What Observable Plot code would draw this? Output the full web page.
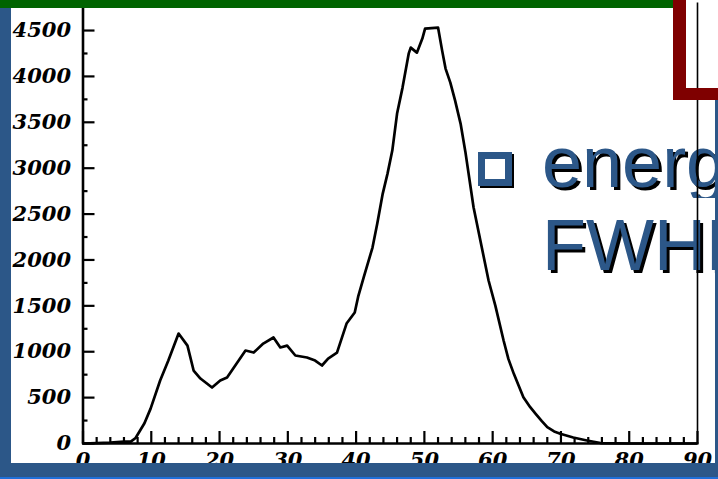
<!DOCTYPE html>
<html>
<head>
<meta charset="utf-8">
<script src="https://cdn.jsdelivr.net/npm/d3@7"></script>
<script src="https://cdn.jsdelivr.net/npm/@observablehq/plot@0.6"></script>
<style>
  html, body { margin: 0; padding: 0; background: #ffffff; }
  #stage { position: relative; width: 718px; height: 479px; overflow: hidden; background: #ffffff; }
  #stage > * { position: absolute; }
  .slideText { font-family: "Liberation Sans", Arial, sans-serif; font-size: 72px; line-height: 1; color: #2C5788; text-shadow: 3px 3px 0 #000; white-space: nowrap; z-index: 1; }
  #chart { left: 0; top: 0; z-index: 2; }
  .deco { z-index: 3; }
</style>
</head>
<body>
<div id="stage">
  <div class="slideText" style="left:542px; top:126px; width:176px; overflow:hidden;">energ</div>
  <div class="slideText" style="left:542px; top:209px; width:176px; overflow:hidden;">FWHM</div>
  <div style="left:478px; top:152px; width:20px; height:20px; border:7px solid #2C5788; background:#fff; box-shadow:2px 2px 0 #000; z-index:1;"></div>
  <div id="chart"></div>
  <div class="deco" style="left:0; top:0; width:673px; height:8px; background:#006400;"></div>
  <div class="deco" style="left:0; top:8px; width:11px; height:471px; background:#2C5788;"></div>
  <div class="deco" style="left:0; top:463px; width:718px; height:14px; background:#2C5788;"></div>
  <div class="deco" style="left:0; top:477px; width:718px; height:2px; background:#1F6FD8;"></div>
  <div class="deco" style="left:673px; top:0; width:13px; height:100px; background:#7F0000;"></div>
  <div class="deco" style="left:673px; top:88px; width:45px; height:12px; background:#7F0000;"></div>
  <div class="deco" style="left:715px; top:100px; width:3px; height:363px; background:#2C5788;"></div>
</div>
<script>
// Energy (channel) values
const energy = [0, 2, 4, 6, 7, 7.7, 9, 9.9, 11.3, 12.5, 14.0, 15.3, 16.2, 17.2, 18.9, 20.1, 21.1, 22.3, 23.8, 25.0,
  26.4, 27.9, 28.9, 29.9, 31.1, 32.8, 34.0, 35.0, 35.9, 37.2, 38.6, 39.8, 40.3, 41.1, 42.4, 43.1, 43.9, 44.6, 45.3,
  46.0, 46.8, 47.7, 48.0, 48.9, 49.7, 50.1, 52.0, 52.6, 53.1, 53.8, 54.5, 55.3, 56.0, 57.2, 59.4, 60.4, 61.6,
  62.3, 63.1, 63.8, 64.5, 65.5, 66.3, 67.2, 68.0, 69.0, 69.9, 71.8, 73.8, 75.8, 80, 85, 90];
// Counts
const counts = [0, 5, 10, 20, 20, 60, 220, 380, 686, 904, 1198, 1067, 795, 708, 610, 686, 719, 850, 1013, 991,
  1089, 1155, 1046, 1067, 959, 937, 904, 850, 926, 990, 1307, 1427, 1600, 1808, 2135, 2397, 2723, 2941, 3192,
  3595, 3878, 4248, 4314, 4259, 4412, 4521, 4532, 4281, 4085, 3932, 3736, 3486, 3180, 2574, 1776, 1500, 1122,
  922, 759, 632, 505, 396, 324, 243, 178, 131, 106, 65, 33, 5, 0, 0, 0];

const xTicks = [0, 10, 20, 30, 40, 50, 60, 70, 80, 90];
const xMinorTicks = [2, 4, 6, 8, 12, 14, 16, 18, 22, 24, 26, 28, 32, 34, 36, 38, 42, 44, 46, 48,
  52, 54, 56, 58, 62, 64, 66, 68, 72, 74, 76, 78, 82, 84, 86, 88];
const yTicks = [0, 500, 1000, 1500, 2000, 2500, 3000, 3500, 4000, 4500];
const yMinorTicks = [250, 750, 1250, 1750, 2250, 2750, 3250, 3750, 4250];

const data = energy.map((e, i) => ({energy: e, counts: counts[i]}));

const W = 718, H = 479, mL = 82.5, mR = 21, mT = 2.5, mB = 36;
const frameW = W - mL - mR, frameH = H - mT - mB;
const labelFont = {fontSize: 21, fontWeight: "bold", fontStyle: "italic", tickFormat: d => String(d)};

const chart = Plot.plot({
  width: W, height: H,
  marginLeft: mL, marginRight: mR, marginTop: mT, marginBottom: mB,
  x: {domain: [0, 90], label: null},
  y: {domain: [0, 4800], label: null},
  style: {background: "transparent", fontFamily: "'DejaVu Serif', 'Liberation Serif', serif", color: "#000"},
  marks: [
    Plot.axisY(yTicks, {tickSize: 0, tickPadding: 12, label: null, ...labelFont}),
    Plot.axisX(xTicks, {tickSize: 0, tickPadding: 9, label: null, ...labelFont}),
    Plot.tickY(yTicks, {y: d => d, insetRight: frameW - 12, strokeWidth: 2.2}),
    Plot.tickY(yMinorTicks, {y: d => d, insetRight: frameW - 5, strokeWidth: 2.2}),
    Plot.tickX(xTicks, {x: d => d, insetTop: frameH - 12, strokeWidth: 2.2}),
    Plot.tickX(xMinorTicks, {x: d => d, insetTop: frameH - 6, strokeWidth: 2.2}),
    Plot.ruleX([90], {strokeWidth: 1.6}),
    Plot.ruleX([0], {strokeWidth: 2.6}),
    Plot.ruleY([0], {strokeWidth: 2.6}),
    Plot.line(data, {x: "energy", y: "counts", stroke: "#000", strokeWidth: 2.7})
  ]
});
document.getElementById("chart").appendChild(chart);
</script>
</body>
</html>
